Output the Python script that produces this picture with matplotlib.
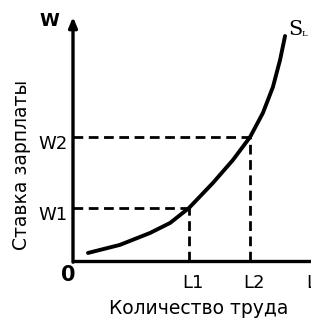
import matplotlib
matplotlib.use('Agg')
import matplotlib.pyplot as plt

# supply curve S_L (labour, wage)
labour = [0.63, 1.97, 3.24, 4.08, 4.87, 5.88, 6.72, 7.44, 7.98, 8.40, 8.70, 8.91]
wage = [0.33, 0.66, 1.15, 1.56, 2.17, 3.20, 4.14, 5.08, 6.07, 7.13, 8.24, 9.22]

# marked points
point_labels = ['1', '2']
l_values = [4.87, 7.44]
w_values = [2.17, 5.08]

font = 'DejaVu Sans'
fs = 13

fig = plt.figure(figsize=(3.11, 3.20), dpi=100)
# axes placed so the origin sits where it does in the picture
ax = fig.add_axes([73 / 311, 59 / 320, 238 / 311, 244 / 320])
ax.set_xlim(0, 10)
ax.set_ylim(0, 10)
for s in ax.spines.values():
    s.set_visible(False)
ax.set_xticks([])
ax.set_yticks([])

# axes lines
ax.plot([0, 10], [0, 0], color='black', lw=2.4, clip_on=False, solid_capstyle='butt')
ax.annotate('', xy=(0, 10), xytext=(0, -0.05),
            arrowprops=dict(arrowstyle='-|>,head_width=0.25,head_length=0.6',
                            color='black', lw=2.4, shrinkA=0, shrinkB=0),
            annotation_clip=False)

# guide lines
for lab, lv, wv in zip(point_labels, l_values, w_values):
    ax.plot([0, lv], [wv, wv], color='black', lw=2, ls=(0, (3.5, 2)))
    ax.plot([lv, lv], [0, wv], color='black', lw=2, ls=(0, (3.5, 2)))

ax.plot(labour, wage, color='black', lw=2.8, solid_capstyle='round',
        solid_joinstyle='round')

# labels
for lab, lv, wv in zip(point_labels, l_values, w_values):
    ax.text(lv + 0.17, -0.9, 'L' + lab, ha='center', va='center',
            fontsize=fs, family=font, clip_on=False)
    ax.text(-0.85, wv - 0.3, 'W' + lab, ha='center', va='center',
            fontsize=fs, family=font, clip_on=False)
ax.text(9.8, -0.9, 'L', ha='left', va='center', fontsize=fs,
        family=font, clip_on=False)
ax.text(-0.21, -0.58, '0', ha='center', va='center', fontsize=fs + 2,
        family=font, fontweight='bold', clip_on=False)
ax.text(-1.0, 9.85, 'W', ha='center', va='center', fontsize=fs,
        family=font, fontweight='bold', clip_on=False)
ax.text(9.05, 9.5, 'S', ha='left', va='center', fontsize=15,
        family='DejaVu Serif', clip_on=False)
ax.text(9.62, 9.3, 'L', ha='left', va='center', fontsize=6,
        family='DejaVu Serif', clip_on=False)

fig.text(199 / 311, 1 - 309 / 320, 'Количество труда', ha='center', va='center',
         fontsize=fs + 0.5, family=font)
fig.text(22 / 311, 1 - 165 / 320, 'Ставка зарплаты', ha='center', va='center',
         rotation=90, fontsize=fs + 0.5, family=font)

fig.savefig('out.png', dpi=100)
